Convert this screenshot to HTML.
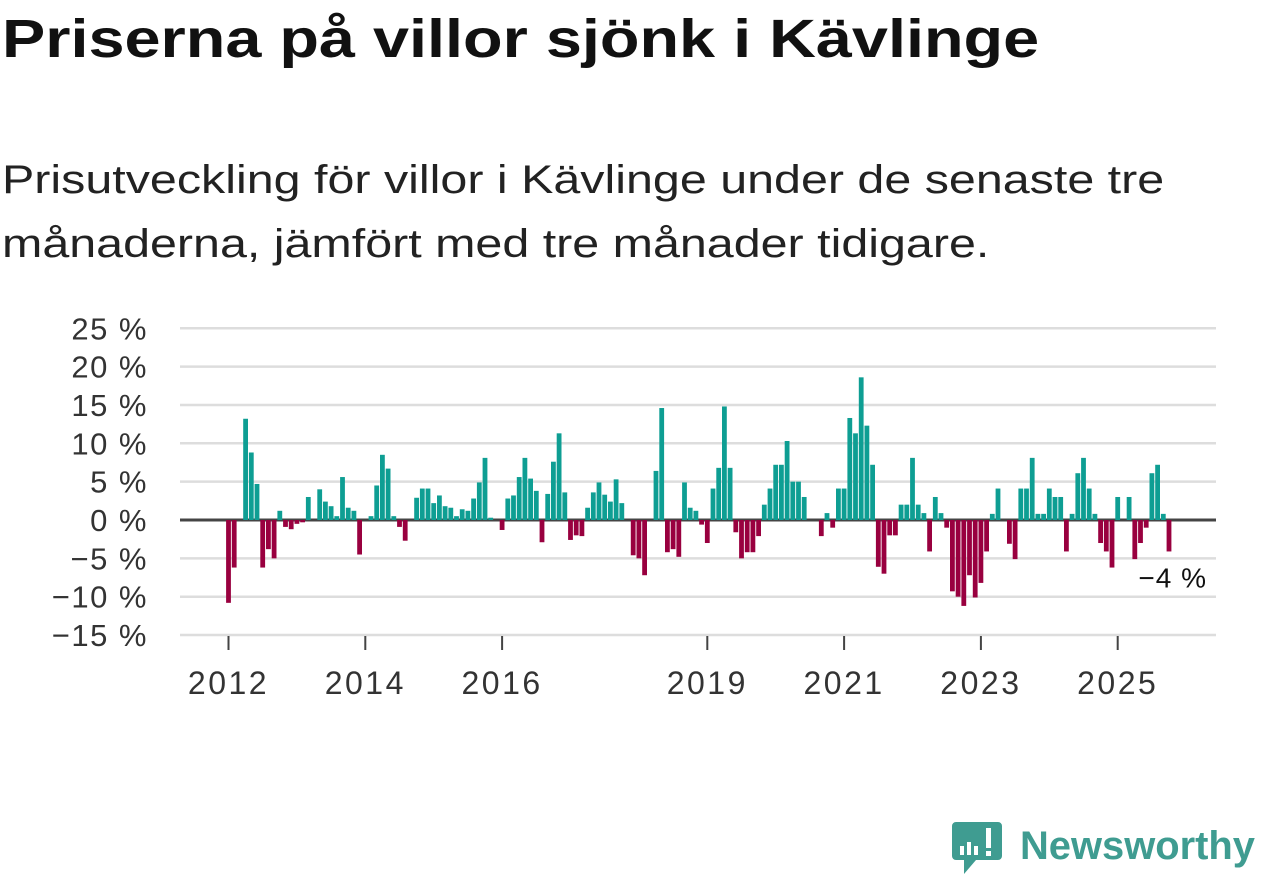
<!DOCTYPE html>
<html><head><meta charset="utf-8">
<style>
body{margin:0;width:1262px;height:879px;background:#fff;overflow:hidden;font-family:"Liberation Sans","DejaVu Sans",sans-serif;}
#title{position:absolute;left:2px;top:8px;font-size:54px;font-weight:bold;color:#111;margin:0;white-space:nowrap;transform:scaleX(1.2);transform-origin:0 0;}
#sub{position:absolute;left:2px;top:148px;font-size:40px;line-height:64px;color:#222;margin:0;white-space:nowrap;transform:scaleX(1.21);transform-origin:0 0;}
svg{position:absolute;left:0;top:0;}
</style></head><body>
<h1 id="title">Priserna på villor sjönk i Kävlinge</h1>
<p id="sub">Prisutveckling för villor i Kävlinge under de senaste tre<br>månaderna, jämfört med tre månader tidigare.</p>
<svg width="1262" height="879">
<g id="grid"></g><g id="bars"></g><g id="axes"></g>
<g>
<path d="M956 822 h42 a4 4 0 0 1 4 4 v30 a4 4 0 0 1 -4 4 h-22 l-12 14 v-14 h-8 a4 4 0 0 1 -4 -4 v-30 a4 4 0 0 1 4 -4z" fill="#3f9c91"/>
<rect x="960" y="846" width="4" height="9" fill="#fff"/><rect x="967" y="842" width="4" height="13" fill="#fff"/><rect x="974" y="846" width="4" height="9" fill="#fff"/><rect x="986" y="828" width="5" height="20" fill="#fff"/><rect x="986" y="851" width="5" height="5" fill="#fff"/>
<text x="1020" y="859" font-size="40" font-weight="bold" fill="#3f9c91" textLength="235" lengthAdjust="spacingAndGlyphs" font-family="Liberation Sans, sans-serif">Newsworthy</text>
</g>
</svg>
<script>
const values=[-10.8,-6.2,0,13.2,8.8,4.7,-6.2,-3.8,-5.0,1.2,-0.9,-1.2,-0.5,-0.3,3.0,0,4.0,2.4,1.8,0.5,5.6,1.6,1.2,-4.5,
0,0.5,4.5,8.5,6.7,0.5,-0.9,-2.7,0,2.9,4.1,4.1,2.2,3.2,1.8,1.6,0.5,1.4,1.2,2.8,4.9,8.1,0.3,0,
-1.3,2.8,3.2,5.6,8.1,5.4,3.8,-2.9,3.4,7.6,11.3,3.6,-2.6,-2.0,-2.1,1.6,3.6,4.9,3.3,2.4,5.3,2.2,0,-4.6,
-5.0,-7.2,0,6.4,14.6,-4.2,-3.8,-4.8,4.9,1.6,1.2,-0.6,-3.0,4.1,6.8,14.8,6.8,-1.6,-5.0,-4.2,-4.2,-2.1,
2.0,4.1,7.2,7.2,10.3,5.0,5.0,3.0,0,0,-2.1,0.9,-1.0,4.1,4.1,13.3,11.3,18.6,12.3,7.2,-6.1,-7.0,
-2.0,-2.0,2.0,2.0,8.1,2.0,0.9,-4.1,3.0,0.9,-1.0,-9.3,-10.0,-11.2,-7.2,-10.1,-8.2,-4.1,0.8,4.1,0,-3.1,-5.1,
4.1,4.1,8.1,0.8,0.8,4.1,3.0,3.0,-4.1,0.8,6.1,8.1,4.1,0.8,-3.0,-4.1,-6.2,3.0,0,3.0,-5.1,-3.0,-1.0,6.1,7.2,0.8,-4.1];
const yTicks=[25,20,15,10,5,0,-5,-10,-15];
const xTickYears=[2012,2014,2016,2019,2021,2023,2025];
const lastLabel="−4 %";
const NS="http://www.w3.org/2000/svg";
const x0=228.5, mw=5.7;
function xs(m){return x0+m*mw;}
function ys(v){return 520-v*7.67;}
const grid=document.getElementById('grid'),bars=document.getElementById('bars'),axes=document.getElementById('axes');
function mk(tag,at,p){const e=document.createElementNS(NS,tag);for(const k in at)e.setAttribute(k,at[k]);p.appendChild(e);return e;}
yTicks.forEach(t=>{
 const l=mk('line',{x1:180,x2:1216,y1:ys(t),y2:ys(t),stroke:t===0?'#444':'#ddd','stroke-width':t===0?3:2.5},grid);
 
 
 const tx=mk('text',{x:148,y:ys(t)+11,'text-anchor':'end','font-size':31,'letter-spacing':1.5,fill:'#333'},axes);
 tx.textContent=(t<0?'−'+(-t):t)+' %';
 
 
});
values.forEach((v,i)=>{
 if(v===0)return;
 const h=Math.abs(ys(v)-ys(0));
 const r=mk('rect',{x:xs(i)-2.4,y:v>0?ys(v):ys(0),width:4.8,height:h,fill:v>0?'#0e9e93':'#99003f'},bars);
 
 
});
const li=values.length-1;
const lb=mk('text',{x:xs(li)+38,y:ys(values[li])+36,'text-anchor':'end','font-size':28,'letter-spacing':1,fill:'#111',stroke:'#fff','stroke-width':6,'paint-order':'stroke'},axes);
lb.textContent=lastLabel;


xTickYears.forEach(yr=>{
 const m=(yr-2012)*12;
 const tk=mk('line',{x1:xs(m),x2:xs(m),y1:636,y2:650,stroke:'#444','stroke-width':2},axes);
 
 
 const t=mk('text',{x:xs(m),y:694,'text-anchor':'middle','font-size':32,'letter-spacing':2.5,fill:'#333'},axes);
 t.textContent=yr;
 
 
});
</script>
</body></html>
